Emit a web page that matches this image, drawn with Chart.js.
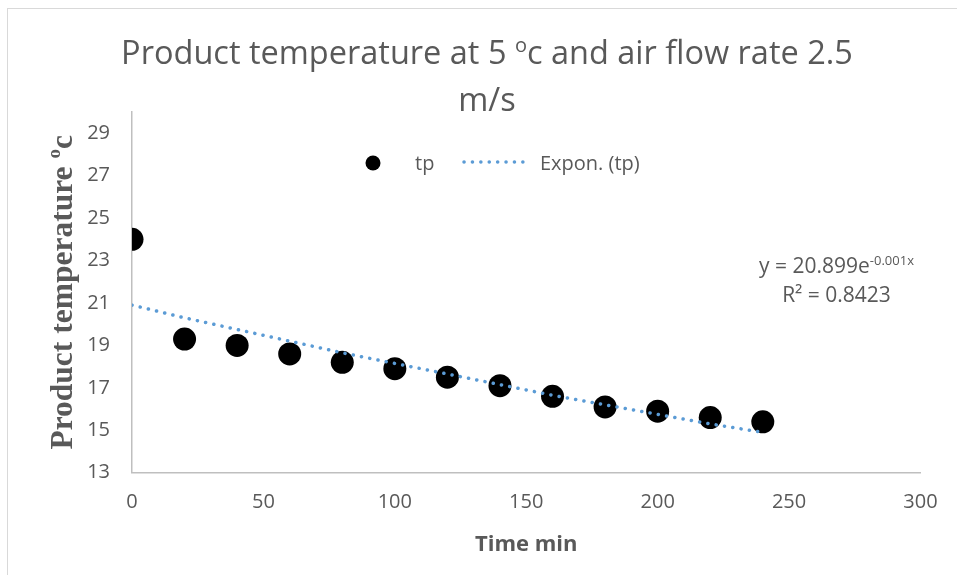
<!DOCTYPE html>
<html>
<head>
<meta charset="utf-8">
<title>Product temperature at 5 oc and air flow rate 2.5 m/s</title>
<script src="https://cdn.jsdelivr.net/npm/chart.js@4.4.0/dist/chart.umd.min.js"></script>
<style>
    html, body { margin: 0; padding: 0; background: #ffffff; }
    canvas { display: block; }
</style>
</head>
<body>
<canvas id="tempChart" width="957" height="575"></canvas>
<script>
// Values
const timeMin = [0, 20, 40, 60, 80, 100, 120, 140, 160, 180, 200, 220, 240];
const tpValues = [24.0, 19.3, 19.0, 18.6, 18.2, 17.9, 17.5, 17.1, 16.6, 16.1, 15.9, 15.6, 15.4];
// dotted trendline, as drawn in the reference
const trendValues = [20.9, 20.3, 19.75, 19.2, 18.65, 18.15, 17.65, 17.15, 16.65, 16.2, 15.75, 15.3, 14.9];
const xTickValues = [0, 50, 100, 150, 200, 250, 300];
const yTickValues = [13, 15, 17, 19, 21, 23, 25, 27, 29];

const titleLines = [
    [{ t: 'Product temperature at 5 ' }, { t: 'o', sup: true }, { t: 'c and air flow rate 2.5' }],
    [{ t: 'm/s' }]
];
const yTitle = [{ t: 'Product temperature ' }, { t: 'o', sup: true }, { t: 'c' }];
const xTitle = 'Time min';
const equationLines = [
    [{ t: 'y = 20.899e' }, { t: '-0.001x', sup: true }],
    [{ t: 'R\u00B2 = 0.8423' }]
];
const legendNames = ['tp', 'Expon. (tp)'];

const textGrey = '#595959';
const trendBlue = '#5B9BD5';
const sansFont = '"Open Sans", "Noto Sans", sans-serif';
const serifFont = '"Liberation Serif", "DejaVu Serif", serif';

function toPoints(xs, ys) {
    return xs.map((x, i) => ({ x: x, y: ys[i] }));
}

// Draw a row of text pieces (some superscript) centred on cx
function drawRichText(ctx, parts, cx, y, size, family, weight) {
    const fontFor = p => `${weight} ${p.sup ? Math.round(size * 0.6) : size}px ${family}`;
    let total = 0;
    parts.forEach(p => {
        ctx.font = fontFor(p);
        total += ctx.measureText(p.t).width;
    });
    let x = cx - total / 2;
    ctx.textAlign = 'left';
    ctx.textBaseline = 'alphabetic';
    parts.forEach(p => {
        ctx.font = fontFor(p);
        ctx.fillText(p.t, x, p.sup ? y - size * 0.38 : y);
        x += ctx.measureText(p.t).width;
    });
}

// Title, legend, axis titles, equation and outer border
const decorations = {
    id: 'decorations',
    afterDraw(chart) {
        const ctx = chart.ctx;
        const area = chart.chartArea;
        ctx.save();

        ctx.strokeStyle = '#D9D9D9';
        ctx.lineWidth = 1;
        ctx.strokeRect(7.5, 8.5, 970, 600);

        ctx.fillStyle = textGrey;
        drawRichText(ctx, titleLines[0], 487, 64, 32.5, sansFont, 'normal');
        drawRichText(ctx, titleLines[1], 487, 111, 32.5, sansFont, 'normal');

        // legend
        ctx.fillStyle = '#000000';
        ctx.beginPath();
        ctx.arc(373, 163, 7.5, 0, Math.PI * 2);
        ctx.fill();
        ctx.fillStyle = textGrey;
        ctx.font = `20px ${sansFont}`;
        ctx.textAlign = 'left';
        ctx.fillText(legendNames[0], 415, 170);
        ctx.fillText(legendNames[1], 540, 170);
        ctx.strokeStyle = trendBlue;
        ctx.lineWidth = 3.5;
        ctx.lineCap = 'round';
        ctx.setLineDash([0.1, 8.3]);
        ctx.beginPath();
        ctx.moveTo(464, 162);
        ctx.lineTo(527, 162);
        ctx.stroke();
        ctx.setLineDash([]);

        // trendline equation
        drawRichText(ctx, equationLines[0], 836.5, 273, 21, sansFont, 'normal');
        drawRichText(ctx, equationLines[1], 836.5, 302, 21, sansFont, 'normal');

        // axis titles
        ctx.font = `bold 22px ${sansFont}`;
        ctx.textAlign = 'center';
        ctx.fillText(xTitle, (area.left + area.right) / 2, 551);

        ctx.translate(72, (area.top + area.bottom) / 2);
        ctx.rotate(-Math.PI / 2);
        drawRichText(ctx, yTitle, 0, 0, 31.5, serifFont, 'bold');

        ctx.restore();
    }
};

const ctx = document.getElementById('tempChart').getContext('2d');
const tempChart = new Chart(ctx, {
    type: 'scatter',
    data: {
        datasets: [
            {
                label: legendNames[1],
                data: toPoints(timeMin, trendValues),
                showLine: true,
                borderColor: trendBlue,
                borderWidth: 3.5,
                borderDash: [0.1, 8.3],
                borderCapStyle: 'round',
                pointRadius: 0,
                fill: false,
                order: 0
            },
            {
                label: legendNames[0],
                data: toPoints(timeMin, tpValues),
                backgroundColor: '#000000',
                borderWidth: 0,
                pointRadius: 11.5,
                pointHoverRadius: 11.5,
                order: 1
            }
        ]
    },
    options: {
        responsive: false,
        animation: false,
        layout: {
            padding: { left: 0, top: 112, right: 36.5, bottom: 2.3 }
        },
        plugins: {
            legend: { display: false },
            title: { display: false },
            tooltip: { enabled: false }
        },
        scales: {
            x: {
                type: 'linear',
                min: 0,
                max: 300,
                afterFit: scale => { scale.height = 100; },
                afterBuildTicks: scale => { scale.ticks = xTickValues.map(v => ({ value: v })); },
                grid: { display: false, drawTicks: false },
                border: { color: '#BFBFBF', width: 1.5 },
                ticks: {
                    color: textGrey,
                    font: { family: sansFont, size: 20 },
                    padding: 18,
                    maxRotation: 0
                }
            },
            y: {
                min: 13,
                max: 30,
                afterFit: scale => { scale.width = 132; },
                afterBuildTicks: scale => { scale.ticks = yTickValues.map(v => ({ value: v })); },
                grid: { display: false, drawTicks: false },
                border: { color: '#BFBFBF', width: 1.5 },
                ticks: {
                    color: textGrey,
                    font: { family: sansFont, size: 20 },
                    padding: 22
                }
            }
        }
    },
    plugins: [decorations]
});
</script>
</body>
</html>
